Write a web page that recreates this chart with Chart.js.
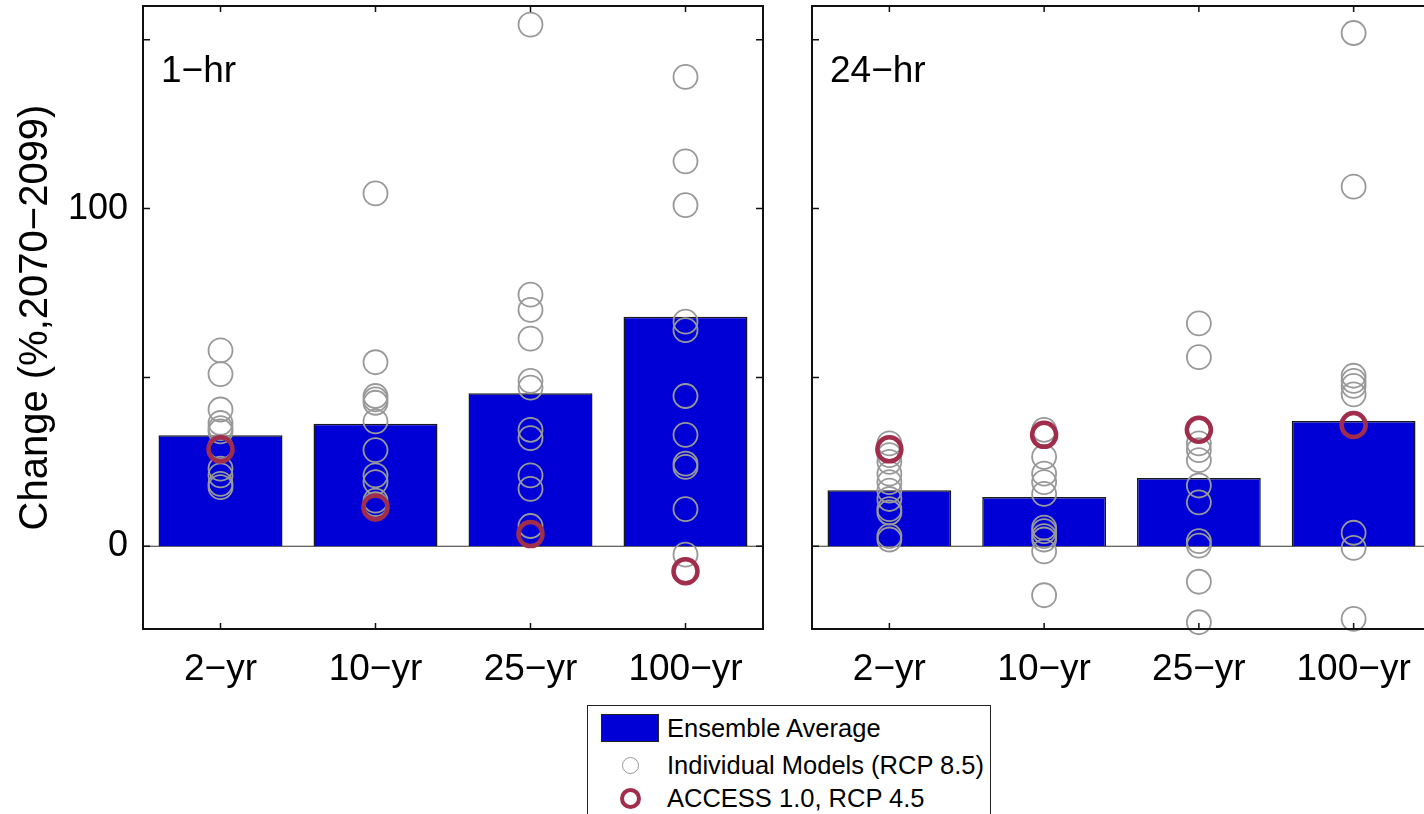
<!DOCTYPE html>
<html>
<head>
<meta charset="utf-8">
<title>Change in extreme rainfall</title>
<script src="https://cdn.jsdelivr.net/npm/chart.js@4.4.1/dist/chart.umd.min.js"></script>
<style>
body{margin:0;background:#fff;overflow:hidden;width:1424px;height:814px;position:relative;font-family:"Liberation Sans",Arial,sans-serif;}
#c1{position:absolute;left:0;top:0;}
#c2{position:absolute;left:790px;top:0;}
#legend{position:absolute;left:587px;top:705px;width:402px;height:130px;border:1.5px solid #222;background:#fff;}
#legend .row{position:absolute;left:0;height:30px;line-height:30px;font-size:25.5px;color:#000;white-space:nowrap;}
#legend .txt{position:absolute;left:79px;top:0;}
.swatch{position:absolute;left:13px;top:1px;width:56px;height:26px;background:#0000d6;border:1px solid #222;}
.ring{position:absolute;border-radius:50%;box-sizing:border-box;}
</style>
</head>
<body>
<canvas id="c1" width="790" height="700"></canvas>
<canvas id="c2" width="660" height="700"></canvas>
<div id="legend">
  <div class="row" style="top:7px"><div class="swatch"></div><span class="txt">Ensemble Average</span></div>
  <div class="row" style="top:44px"><div class="ring" style="left:34px;top:7px;width:17px;height:17px;border:1.5px solid #999;"></div><span class="txt">Individual Models (RCP 8.5)</span></div>
  <div class="row" style="top:77px"><div class="ring" style="left:32px;top:5px;width:21px;height:21px;border:4px solid #a02d4b;"></div><span class="txt">ACCESS 1.0, RCP 4.5</span></div>
</div>
<script>
// return periods on the x axis
var periods = ['2\u2212yr', '10\u2212yr', '25\u2212yr', '100\u2212yr'];
var yTickValues = [0, 50, 100, 150];
var yTickLabels = ['0', '', '100', ''];

// ensemble average change (%)
var ensemble1hr = [32.9, 36.3, 45.3, 68.0];
var ensemble24hr = [16.6, 14.6, 20.2, 37.1];

// individual models, RCP 8.5 (one list per period)
var models1hr = [
  [58, 51, 40.5, 36.5, 35, 34, 29.5, 23, 21, 18.5, 17.5],
  [104.5, 54.5, 44.5, 43.5, 42.5, 37, 28.5, 21, 19, 13.5, 12.5],
  [154.5, 74.5, 70, 61.5, 49, 47, 34.5, 32, 21, 17, 6],
  [139, 114, 101, 66.5, 64, 44.5, 33, 24.5, 23.5, 11, -2.5]
];
var models24hr = [
  [30.5, 27, 25, 21.5, 19, 16.5, 14, 11, 10, 3, 2],
  [34.5, 26.5, 21.5, 19, 15.5, 5.5, 4.5, 3, 2, -1.5, -14.5],
  [66, 56, 30.5, 28.5, 25.5, 18, 13, 1.5, 0.2, -10.5, -22.5],
  [152, 106.5, 50.5, 49, 47.5, 45, 4, -0.5, -21.5]
];

// ACCESS 1.0, RCP 4.5
var access1hr = [28.7, 11.5, 3.6, -7.4];
var access24hr = [28.7, 33, 34.5, 35.9];

Chart.defaults.font.family = '"Liberation Sans", Arial, sans-serif';
Chart.defaults.color = '#000';

function modelPoints(list){
  var out = [];
  for (var i = 0; i < periods.length; i++)
    for (var j = 0; j < list[i].length; j++)
      out.push({x: periods[i], y: list[i][j]});
  return out;
}
function accessPoints(list){
  return list.map(function(v, i){ return {x: periods[i], y: v}; });
}

// box, inward ticks, zero line and panel label
var framePlugin = {
  id: 'frame',
  beforeDatasetsDraw: function(chart){
    var a = chart.chartArea, ctx = chart.ctx;
    var y0 = chart.scales.y.getPixelForValue(0);
    ctx.save();
    ctx.strokeStyle = '#333';
    ctx.lineWidth = 1.2;
    ctx.beginPath(); ctx.moveTo(a.left, y0); ctx.lineTo(a.right, y0); ctx.stroke();
    ctx.restore();
  },
  afterDraw: function(chart){
    var a = chart.chartArea, ctx = chart.ctx, sx = chart.scales.x, sy = chart.scales.y;
    ctx.save();
    ctx.strokeStyle = '#111';
    ctx.lineWidth = 2;
    ctx.strokeRect(a.left, a.top, a.right - a.left, a.bottom - a.top);
    ctx.lineWidth = 1.5;
    ctx.beginPath();
    yTickValues.forEach(function(v){
      var p = sy.getPixelForValue(v);
      ctx.moveTo(a.left, p); ctx.lineTo(a.left + 7, p);
      ctx.moveTo(a.right, p); ctx.lineTo(a.right - 7, p);
    });
    periods.forEach(function(c, i){
      var p = sx.getPixelForValue(i);
      ctx.moveTo(p, a.top); ctx.lineTo(p, a.top + 6);
      ctx.moveTo(p, a.bottom); ctx.lineTo(p, a.bottom - 6);
    });
    ctx.stroke();
    ctx.fillStyle = '#000';
    ctx.font = '37px "Liberation Sans", Arial, sans-serif';
    ctx.textBaseline = 'alphabetic';
    ctx.fillText(chart.options.plugins.frame.label, a.left + 18, a.top + 76);
    ctx.restore();
  }
};

function makeChart(id, label, ensemble, models, access, showY, yWidth, padRight){
  return new Chart(document.getElementById(id), {
    type: 'bar',
    data: {
      labels: periods,
      datasets: [{
        label: 'Ensemble Average',
        data: ensemble,
        backgroundColor: '#0000d6',
        borderColor: '#1a1a1a',
        borderWidth: 1.5,
        barPercentage: 0.8,
        categoryPercentage: 1,
        order: 3
      }, {
        type: 'line',
        label: 'Individual Models (RCP 8.5)',
        data: modelPoints(models),
        showLine: false,
        clip: false,
        pointStyle: 'circle',
        pointRadius: 12,
        pointBorderWidth: 1.8,
        pointBorderColor: '#999',
        pointBackgroundColor: 'rgba(0,0,0,0)',
        order: 2
      }, {
        type: 'line',
        label: 'ACCESS 1.0, RCP 4.5',
        data: accessPoints(access),
        showLine: false,
        clip: false,
        pointStyle: 'circle',
        pointRadius: 12,
        pointBorderWidth: 4.5,
        pointBorderColor: '#a02d4b',
        pointBackgroundColor: 'rgba(0,0,0,0)',
        order: 1
      }]
    },
    options: {
      responsive: false,
      animation: false,
      events: [],
      layout: {autoPadding: false, padding: {left: 0, top: 6, right: padRight, bottom: 0}},
      plugins: {legend: {display: false}, tooltip: {enabled: false}, frame: {label: label}},
      scales: {
        x: {
          grid: {display: false},
          border: {display: false},
          ticks: {font: {size: 37}, padding: 11, maxRotation: 0, autoSkip: false},
          afterFit: function(s){ s.height = 71; s.paddingLeft = 0; s.paddingRight = 0; }
        },
        y: {
          min: -24.5,
          max: 160,
          grid: {display: false},
          border: {display: false},
          afterBuildTicks: function(s){ s.ticks = yTickValues.map(function(v){ return {value: v}; }); },
          ticks: {
            display: showY,
            font: {size: 36},
            padding: 7,
            callback: function(v){ return yTickLabels[yTickValues.indexOf(v)]; }
          },
          title: {
            display: showY,
            text: 'Change (%,2070\u22122099)',
            font: {size: 40},
            padding: {top: 12, bottom: 0}
          },
          afterFit: function(s){ s.width = yWidth; s.paddingTop = 0; s.paddingBottom = 0; }
        }
      }
    },
    plugins: [framePlugin]
  });
}

makeChart('c1', '1\u2212hr', ensemble1hr, models1hr, access1hr, true, 143, 27);
makeChart('c2', '24\u2212hr', ensemble24hr, models24hr, access24hr, false, 22, 19);
</script>
</body>
</html>
